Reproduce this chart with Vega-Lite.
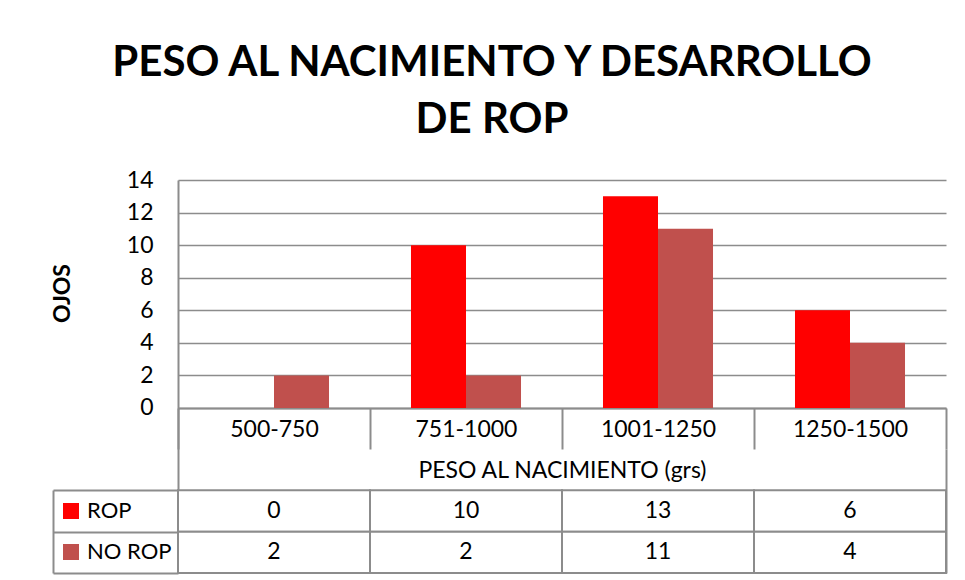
{
  "$schema": "https://vega.github.io/schema/vega-lite/v6.json",
  "width": 768,
  "height": 393,
  "autosize": {"type": "none"},
  "padding": {"left": 178, "top": 180, "right": 19, "bottom": 7},
  "background": "white",
  "config": {"font": "Lato", "view": {"stroke": null}},
  "title": {
    "text": ["PESO AL NACIMIENTO Y DESARROLLO", "DE ROP"],
    "font": "Lato",
    "fontSize": 42,
    "fontWeight": "bold",
    "color": "black",
    "lineHeight": 57,
    "anchor": "middle",
    "frame": "group",
    "dx": -70,
    "offset": 27
  },
  "data": {
    "values": [
      {"cat": "500-750", "series": "ROP", "value": 0},
      {"cat": "500-750", "series": "NO ROP", "value": 2},
      {"cat": "751-1000", "series": "ROP", "value": 10},
      {"cat": "751-1000", "series": "NO ROP", "value": 2},
      {"cat": "1001-1250", "series": "ROP", "value": 13},
      {"cat": "1001-1250", "series": "NO ROP", "value": 11},
      {"cat": "1250-1500", "series": "ROP", "value": 6},
      {"cat": "1250-1500", "series": "NO ROP", "value": 4}
    ]
  },
  "layer": [
    {
      "mark": {"type": "bar"},
      "encoding": {
        "x": {
          "field": "cat",
          "type": "nominal",
          "sort": ["500-750", "751-1000", "1001-1250", "1250-1500"],
          "scale": {"paddingInner": 0, "paddingOuter": 0},
          "axis": {
            "orient": "bottom",
            "offset": -165,
            "domain": true,
            "domainColor": "#8c8c8c",
            "domainWidth": 2,
            "ticks": true,
            "tickBand": "extent",
            "tickSize": 41,
            "tickColor": "#8c8c8c",
            "tickWidth": 2,
            "labelAngle": 0,
            "labelFontSize": 23,
            "labelColor": "black",
            "labelPadding": -31,
            "title": "PESO AL NACIMIENTO (grs)",
            "titleFontSize": 23,
            "titleFontWeight": "normal",
            "titleColor": "black",
            "titleY": 62,
            "titleBaseline": "middle",
            "grid": false
          }
        },
        "xOffset": {
          "field": "series",
          "type": "nominal",
          "sort": ["ROP", "NO ROP"],
          "scale": {"paddingInner": 0, "paddingOuter": 0.745}
        },
        "y": {
          "field": "value",
          "type": "quantitative",
          "scale": {"domain": [-10.1316, 14], "nice": false, "zero": false},
          "axis": {
            "orient": "left",
            "values": [0, 2, 4, 6, 8, 10, 12, 14],
            "domain": true,
            "domainColor": "#8c8c8c",
            "domainWidth": 2,
            "ticks": false,
            "grid": true,
            "gridColor": "#8c8c8c",
            "gridWidth": 1.6,
            "labelFontSize": 23,
            "labelColor": "black",
            "labelPadding": 25,
            "title": "OJOS",
            "titleFontSize": 23,
            "titleFontWeight": "bold",
            "titleColor": "black",
            "titleX": -116,
            "titleY": 113,
            "titleBaseline": "middle",
            "titleAngle": -90
          }
        },
        "color": {
          "field": "series",
          "type": "nominal",
          "scale": {"domain": ["ROP", "NO ROP"], "range": ["#FF0000", "#C0504D"]},
          "legend": {
            "orient": "none",
            "legendX": -118,
            "legendY": 320,
            "title": null,
            "padding": 0,
            "symbolType": "square",
            "symbolSize": 256,
            "symbolStrokeWidth": 0,
            "labelFontSize": 22,
            "labelColor": "black",
            "labelOffset": 5,
            "rowPadding": 19
          }
        }
      }
    },
    {
      "mark": {"type": "rect", "fill": "white", "stroke": "#8c8c8c", "strokeWidth": 2},
      "encoding": {
        "x": {"field": "cat", "type": "nominal", "sort": ["500-750", "751-1000", "1001-1250", "1250-1500"]},
        "y": {
          "field": "series",
          "type": "nominal",
          "scale": {"domain": ["hdr", "ROP", "NO ROP"], "range": [269, 393], "paddingInner": 0, "paddingOuter": 0},
          "axis": {
            "orient": "right",
            "domain": true,
            "domainColor": "#8c8c8c",
            "domainWidth": 2,
            "ticks": false,
            "labels": false,
            "grid": false,
            "title": null
          }
        }
      }
    },
    {
      "mark": {"type": "text", "fontSize": 23, "baseline": "middle", "color": "black"},
      "encoding": {
        "x": {"field": "cat", "type": "nominal", "sort": ["500-750", "751-1000", "1001-1250", "1250-1500"]},
        "y": {
          "field": "series",
          "type": "nominal",
          "scale": {"domain": ["ROP", "NO ROP"], "range": [310, 393], "paddingInner": 0, "paddingOuter": 0},
          "axis": {
            "orient": "left",
            "offset": 125,
            "domain": true,
            "domainColor": "#8c8c8c",
            "domainWidth": 2,
            "ticks": true,
            "tickBand": "extent",
            "tickSize": -125,
            "tickColor": "#8c8c8c",
            "tickWidth": 2,
            "labels": false,
            "grid": false,
            "title": null
          }
        },
        "text": {"field": "value", "type": "quantitative"}
      }
    }
  ],
  "resolve": {"scale": {"y": "independent"}, "axis": {"y": "independent"}}
}
